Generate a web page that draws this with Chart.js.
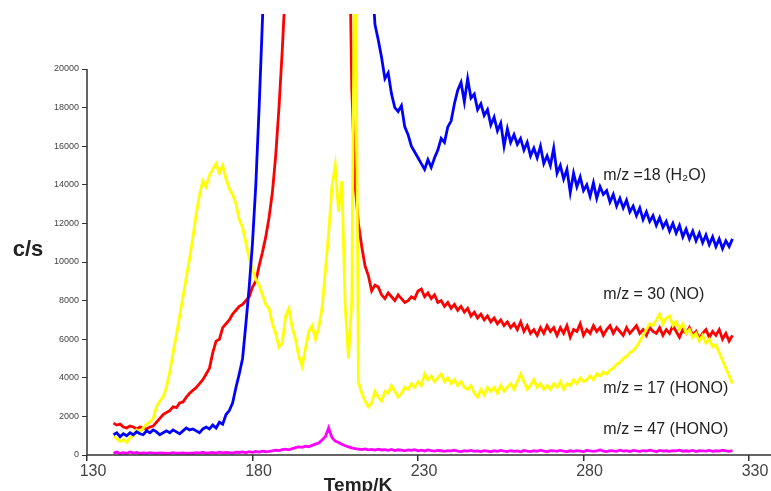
<!DOCTYPE html>
<html>
<head>
<meta charset="utf-8">
<script src="https://cdn.jsdelivr.net/npm/chart.js@4/dist/chart.umd.min.js"></script>
<style>
  body { margin: 0; background: #fff; }
</style>
</head>
<body>
<canvas id="myChart" width="771" height="491"></canvas>
<script>
// temperature ramp, 1 K per reading, 138..325 K
const tempStart = 138;
const tempEnd = 325;

const xTicks = [130, 180, 230, 280, 330];
const yTicks = [0, 2000, 4000, 6000, 8000, 10000, 12000, 14000, 16000, 18000, 20000];

const seriesNames = ['m/z =18 (H\u2082O)', 'm/z = 30 (NO)', 'm/z = 17 (HONO)', 'm/z = 47 (HONO)'];

// m/z 18 (H2O) - goes off scale between ~184 and ~216 K
const h2o = [
    1050, 1150, 950, 1100, 1000, 1150, 1050, 1200, 1100, 1050,
    1250, 1150, 1300, 1200, 1050, 1150, 1250, 1150, 1300, 1200,
    1100, 1250, 1400, 1300, 1350, 1250, 1150, 1350, 1450, 1350,
    1550, 1400, 1700, 1600, 2100, 2300, 2700, 3500, 4200, 5000,
    6800, 8700, 11000, 14000, 18000, 22500, 27000, 30000, 30000, 30000,
    30000, 30000, 30000, 30000, 30000, 30000, 30000, 30000, 30000, 30000,
    30000, 30000, 30000, 30000, 30000, 30000, 30000, 30000, 30000, 30000,
    30000, 30000, 30000, 30000, 30000, 30000, 30000, 30000, 25000, 22300,
    21500, 20600, 19500, 19800, 18700, 18000, 17800, 18100, 17000, 16600,
    16000, 15700, 15400, 15100, 14800, 15300, 14900, 15400, 15800, 16400,
    16200, 17000, 17300, 18200, 18900, 19300, 18300, 19500, 18500, 18700,
    17900, 18200, 17600, 17900, 17100, 17500, 16800, 17200, 16000, 16900,
    16200, 16600, 16100, 16400, 15800, 16200, 15500, 15900, 15400, 16000,
    15100, 15500, 15000, 15900, 14600, 15000, 14300, 14800, 13600, 14600,
    13900, 14400, 13700, 14000, 13400, 14100, 13300, 13900, 13500, 13700,
    13100, 13500, 12900, 13300, 12800, 13200, 12600, 12900, 12400, 12800,
    12200, 12600, 12100, 12400, 11900, 12300, 11800, 12100, 11600, 12000,
    11500, 11900, 11300, 11700, 11200, 11600, 11100, 11500, 11000, 11400,
    10900, 11300, 10800, 11200, 10700, 11100, 10800, 11200
];

// m/z 30 (NO) - off scale between ~190 and ~210 K
const no = [
    1650, 1550, 1600, 1450, 1400, 1500, 1450, 1350, 1450, 1400,
    1350, 1450, 1500, 1700, 1900, 2100, 2200, 2300, 2500, 2450,
    2700, 2750, 3000, 3200, 3350, 3500, 3700, 3900, 4200, 4500,
    5300, 5900, 6000, 6600, 6800, 7000, 7300, 7500, 7700, 7800,
    8000, 8200, 8700, 9000, 9800, 10500, 11300, 12300, 13600, 15500,
    18000, 21000, 24500, 30000, 30000, 30000, 30000, 30000, 30000, 30000,
    30000, 30000, 30000, 30000, 30000, 30000, 30000, 30000, 30000, 30000,
    30000, 30000, 19000, 14000, 12000, 10800, 9800, 9300, 8500, 8800,
    8700, 8300, 8100, 8400, 8200, 8000, 8300, 8100, 7900, 8000,
    8200, 8100, 8500, 8600, 8200, 8400, 8100, 8300, 7900, 8000,
    7700, 7900, 7600, 7800, 7500, 7700, 7400, 7600, 7200, 7400,
    7100, 7300, 7000, 7200, 6900, 7100, 6800, 7000, 6700, 6900,
    6600, 6800, 6500, 6900, 6400, 6700, 6300, 6500, 6200, 6600,
    6300, 6700, 6400, 6600, 6200, 6600, 6300, 6700, 6100, 6500,
    6400, 6800, 6200, 6500, 6300, 6700, 6400, 6600, 6200, 6500,
    6700, 6300, 6600, 6400, 6200, 6600, 6300, 6500, 6700, 6300,
    6500, 6200, 6600, 6400, 6300, 6600, 6200, 6500, 6300, 6700,
    6400, 6100, 6500, 6300, 6600, 6200, 6400, 6000, 6300, 6500,
    6100, 6400, 6200, 6500, 6000, 6300, 5900, 6200
];

// m/z 17 (HONO)
const hono17 = [
    950, 850, 700, 800, 650, 900, 1000, 1300, 1200, 1400,
    1600, 1700, 1900, 2500, 2800, 3000, 3500, 4300, 5300, 6200,
    7200, 8200, 9200, 10200, 11300, 12500, 13500, 14200, 13900, 14500,
    14800, 15100, 14600, 15000, 14300, 13800, 13500, 13000, 12200, 11800,
    11000, 10200, 9600, 9100, 8800, 8300, 7800, 7600, 6800, 6300,
    5600, 5800, 7200, 7600, 6600, 6000, 5100, 4600, 5500, 6400,
    6700, 6000, 6600, 7600, 9500, 11500, 13900, 15000, 12600, 14200,
    7700, 5000, 8000, 30000, 3800, 3200, 2800, 2500, 2700, 3300,
    3000, 2800, 3300, 3200, 3600, 3300, 3000, 3200, 3500, 3400,
    3700, 3500, 3800, 3600, 4200, 3900, 4100, 3800, 4000, 4200,
    3800, 4000, 3700, 3900, 3600, 3800, 3500, 3400, 3600, 3200,
    3000, 3400, 3100, 3500, 3300, 3500, 3200, 3600, 3300, 3500,
    3700, 3400, 3800, 4200, 3800, 3400, 3600, 3900, 3500, 3700,
    3400, 3600, 3400, 3700, 3500, 3800, 3400, 3700, 3600, 3900,
    3700, 4000, 3800, 3900, 4100, 3900, 4200, 4100, 4300, 4200,
    4400, 4500, 4700, 4800, 5000, 5100, 5300, 5400, 5600, 5900,
    6200, 6500, 6800, 6700, 7000, 7300, 6800, 7100, 7200, 6700,
    6900, 6500, 6800, 6300, 6500, 6100, 6300, 5900, 6200, 5800,
    6000, 5600, 5700, 5300, 4900, 4500, 4100, 3700
];

// m/z 47 (HONO)
const hono47 = [
    100, 150, 80, 120, 90, 160, 100, 130, 80, 110,
    90, 120, 100, 80, 110, 90, 100, 80, 120, 90,
    100, 110, 80, 100, 90, 120, 100, 140, 90, 110,
    130, 100, 150, 110, 140, 120, 100, 150, 130, 160,
    120, 170, 140, 180, 150, 200, 170, 190, 220, 250,
    230, 280, 300, 270, 330, 380, 420, 400, 460, 430,
    500, 560, 620, 780, 950, 1400, 900, 720, 650, 560,
    480, 420, 370, 330, 300, 280, 320, 270, 290, 250,
    300, 260, 280, 240, 290, 230, 270, 250, 220, 260,
    240, 280, 220, 250, 210, 260, 230, 200, 240, 220,
    190, 230, 210, 250, 200, 180, 220, 200, 240, 190,
    210, 180, 230, 200, 170, 220, 190, 240, 200, 180,
    220, 190, 210, 170, 230, 200, 180, 220, 190, 250,
    200, 180, 230, 210, 190, 240, 200, 170, 220, 190,
    230, 200, 180, 240, 210, 190, 220, 260, 200, 180,
    230, 210, 190, 250, 200, 220, 180, 240, 210, 190,
    230, 200, 250, 210, 180, 240, 200, 220, 190, 230,
    210, 250, 190, 220, 200, 240, 180, 230, 210, 200,
    240, 190, 220, 200, 250, 210, 190, 230
];

const temps = [];
for (let t = tempStart; t <= tempEnd; t++) temps.push(t);

function toPoints(values) {
    return values.map((v, i) => ({ x: temps[i], y: v }));
}

// axis lines + series labels, drawn through the chart scales
const annotations = {
    id: 'annotations',
    afterDatasetsDraw(chart) {
        const ctx = chart.ctx;
        const xs = chart.scales.x;
        const ys = chart.scales.y;
        const left = xs.getPixelForValue(130);
        const bottom = ys.getPixelForValue(0);
        ctx.save();
        ctx.strokeStyle = '#333';
        ctx.lineWidth = 1.5;
        ctx.beginPath();
        ctx.moveTo(left, ys.getPixelForValue(20000));
        ctx.lineTo(left, bottom);
        ctx.lineTo(chart.width, bottom);
        ctx.stroke();

        ctx.fillStyle = '#222';
        ctx.font = '16px "Liberation Sans", Arial, sans-serif';
        ctx.textBaseline = 'middle';
        ctx.textAlign = 'left';
        const labelY = [14500, 8290, 3420, 1300];
        seriesNames.forEach((name, i) => {
            ctx.fillText(name, xs.getPixelForValue(286), ys.getPixelForValue(labelY[i]));
        });

        ctx.font = 'bold 22px "Liberation Sans", Arial, sans-serif';
        ctx.textAlign = 'center';
        ctx.fillText('c/s', 28, 250);
        ctx.font = 'bold 19px "Liberation Sans", Arial, sans-serif';
        ctx.textBaseline = 'alphabetic';
        ctx.fillText('Temp/K', 358, 491);
        ctx.restore();
    }
};

const lineStyle = {
    pointRadius: 0,
    borderWidth: 2.8,
    tension: 0,
    fill: false,
};

new Chart(document.getElementById('myChart').getContext('2d'), {
    type: 'line',
    data: {
        datasets: [
            { label: seriesNames[0], data: toPoints(h2o), borderColor: '#0000ff', ...lineStyle },
            { label: seriesNames[2], data: toPoints(hono17), borderColor: '#ffff00', ...lineStyle },
            { label: seriesNames[1], data: toPoints(no), borderColor: '#ff0000', ...lineStyle },
            { label: seriesNames[3], data: toPoints(hono47), borderColor: '#ff00ff', ...lineStyle },
        ],
    },
    options: {
        responsive: false,
        animation: false,
        layout: { padding: { top: 14, right: 22, left: 0, bottom: 0 } },
        plugins: { legend: { display: false }, tooltip: { enabled: false } },
        scales: {
            x: {
                type: 'linear',
                min: xTicks[0],
                max: xTicks[xTicks.length - 1],
                afterBuildTicks: (scale) => { scale.ticks = xTicks.map(v => ({ value: v })); },
                afterFit: (scale) => { scale.height = 36; },
                border: { display: false },
                grid: { drawOnChartArea: false, drawTicks: true, tickLength: 6, color: '#333', lineWidth: 1.5 },
                ticks: {
                    maxRotation: 0,
                    autoSkip: false,
                    padding: 1,
                    labelOffset: 6,
                    color: '#444',
                    font: { family: '"Liberation Sans", Arial, sans-serif', size: 16 },
                    callback: (v) => String(v),
                },
            },
            y: {
                min: 0,
                max: 22850,
                afterBuildTicks: (scale) => { scale.ticks = yTicks.map(v => ({ value: v })); },
                afterFit: (scale) => { scale.width = 87; },
                border: { display: false },
                grid: { drawOnChartArea: false, drawTicks: true, tickLength: 5, color: '#333', lineWidth: 1 },
                ticks: {
                    padding: 3,
                    color: '#444',
                    font: { family: '"Liberation Sans", Arial, sans-serif', size: 9 },
                    callback: (v) => String(v),
                },
            },
        },
    },
    plugins: [annotations],
});
</script>
</body>
</html>
